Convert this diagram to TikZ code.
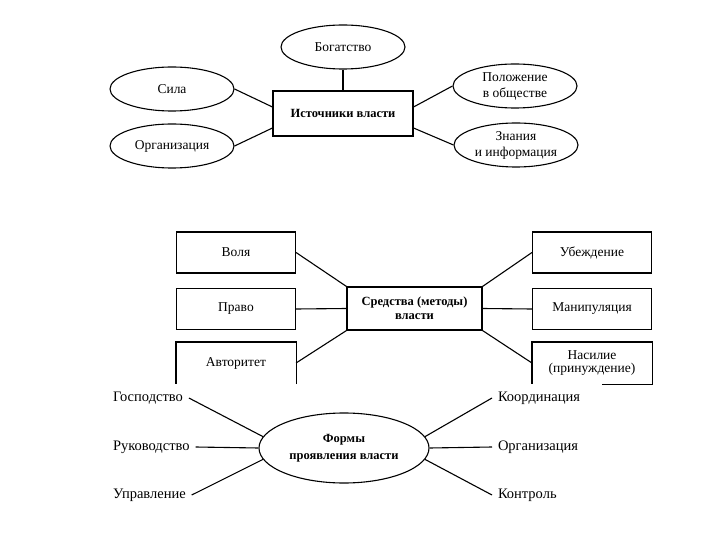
\documentclass[tikz,border=0pt]{standalone}
\usepackage{fontspec}
\setmainfont{Liberation Serif}
\usetikzlibrary{shapes.geometric}
\begin{document}
\begin{tikzpicture}[x=1pt,y=-1pt, line width=1.1pt,
  ell/.style={draw, ellipse, minimum width=124pt, minimum height=44pt, inner sep=0pt, align=center, font=\fontsize{13.5}{16}\selectfont},
  rbox/.style={draw, rectangle, minimum width=119pt, minimum height=41pt, inner sep=0pt, align=center, font=\fontsize{13.5}{13}\selectfont},
  hub/.style={draw, rectangle, inner sep=0pt, align=center, font=\bfseries\fontsize{12.5}{14}\selectfont},
  lbl/.style={inner sep=0pt, outer sep=6pt, font=\fontsize{14.5}{16}\selectfont},
  conn/.style={line width=1.1pt}]
\useasboundingbox (0,0) rectangle (720,540);

% ---- Sources of power ----
\node[ell] (bog) at (343,47) {Богатство};
\node[ell] (sila) at (172,89) {Сила};
\node[ell] (org) at (172,146) {Организация};
\node[ell] (pol) at (515,86) {Положение\\в обществе};
\node[ell] (zn) at (516,145) {Знания\\и информация};
\node[hub, minimum width=140pt, minimum height=45pt] (src) at (343,113.5) {Источники власти};

\draw[conn] (bog) -- (src);
\draw[conn] (sila.east) -- ([yshift=6.5pt]src.west);
\draw[conn] (org.east) -- ([yshift=-14.5pt]src.west);
\draw[conn] ([yshift=6.5pt]src.east) -- (pol.west);
\draw[conn] ([yshift=-14.5pt]src.east) -- (zn.west);

% ---- Means (methods) of power ----
\node[rbox] (volya) at (236,252.5) {Воля};
\node[rbox] (pravo) at (236,309) {Право};
\node[rbox, draw=none] (avt) at (236,363) {Авторитет};
\node[hub, minimum width=135pt, minimum height=43pt] (sred) at (414.5,308.5) {Средства (методы)\\власти};
\node[rbox] (ubezh) at (592,252.5) {Убеждение};
\node[rbox] (manip) at (592,309) {Манипуляция};
\node[rbox, draw=none] (nas) at (592,363) {Насилие\\(принуждение)};

\draw[conn] (avt.south east) -- (avt.north east) -- (avt.north west) -- (avt.south west);
\draw[conn] ([xshift=-50pt]nas.south east) -- (nas.south east) -- (nas.north east) -- (nas.north west) -- (nas.south west);

\draw[conn] (volya.east) -- (sred.north west);
\draw[conn] (pravo.east) -- (sred.west);
\draw[conn] (avt.east) -- (sred.south west);
\draw[conn] (ubezh.west) -- (sred.north east);
\draw[conn] (manip.west) -- (sred.east);
\draw[conn] (nas.west) -- (sred.south east);

% ---- Forms of power ----
\node[draw, ellipse, minimum width=170pt, minimum height=70pt, inner sep=0pt, align=center,
      font=\bfseries\fontsize{12.5}{17}\selectfont] (forms) at (344,448) {Формы\\проявления власти};

\node[lbl, anchor=west] (gos) at (107,398) {Господство};
\node[lbl, anchor=west] (ruk) at (107,447) {Руководство};
\node[lbl, anchor=west] (upr) at (107,495) {Управление};
\node[lbl, anchor=west] (koord) at (492,398) {Координация};
\node[lbl, anchor=west] (org2) at (492,447) {Организация};
\node[lbl, anchor=west] (kontr) at (492,495) {Контроль};

\draw[conn] (gos.east) -- (forms.172);
\draw[conn] (ruk.east) -- (forms.west);
\draw[conn] (upr.east) -- (forms.188);
\draw[conn] (koord.west) -- (forms.8);
\draw[conn] (org2.west) -- (forms.east);
\draw[conn] (kontr.west) -- (forms.-8);
\end{tikzpicture}
\end{document}
